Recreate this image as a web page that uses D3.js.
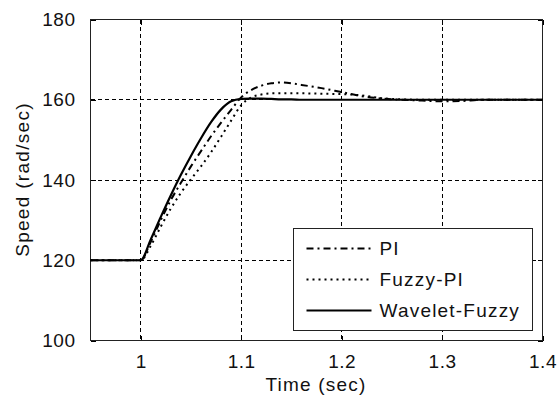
<!DOCTYPE html>
<html>
<head>
<meta charset="utf-8">
<script src="https://cdn.jsdelivr.net/npm/d3@7"></script>
<style>
  html, body { margin: 0; padding: 0; background: #fff; }
  svg { display: block; }
  text { font-family: "Liberation Sans", Arial, sans-serif; fill: #111; }
</style>
</head>
<body>
<svg id="chart" width="560" height="398"></svg>
<script>
// time samples (sec)
const time = [0.95, 1.0, 1.01, 1.02, 1.03, 1.04, 1.05, 1.06, 1.07, 1.08, 1.09, 1.1,
  1.11, 1.12, 1.13, 1.14, 1.15, 1.16, 1.18, 1.2, 1.22, 1.24, 1.26, 1.28, 1.3, 1.32, 1.34, 1.37, 1.4];

// speed (rad/sec) for each controller
const piSpeed = [120, 120, 124.6, 130.0, 135.0, 139.3, 143.4, 147.2, 150.9, 154.3, 157.5, 160.6,
  162.4, 163.5, 164.1, 164.3, 164.1, 163.7, 162.9, 161.9, 160.9, 160.3, 160.0, 159.8, 159.6, 159.7, 160.0, 160.0, 160.0];
const fuzzyPiSpeed = [120, 120, 123.6, 128.4, 132.9, 136.8, 140.2, 143.4, 146.9, 150.8, 154.8, 158.6,
  160.6, 161.3, 161.6, 161.6, 161.6, 161.6, 161.5, 161.4, 161.1, 160.4, 160.1, 160.0, 160.0, 160.0, 160.0, 160.0, 160.0];
const waveletSpeed = [120, 120, 125.2, 130.8, 136.2, 141.3, 146.0, 150.4, 154.4, 157.6, 159.6, 160.2,
  160.3, 160.3, 160.2, 160.1, 160.1, 160.0, 160.0, 160.0, 160.0, 160.0, 160.0, 160.0, 160.0, 160.0, 160.0, 160.0, 160.0];

const xTicks = [1, 1.1, 1.2, 1.3, 1.4];
const yTicks = [100, 120, 140, 160, 180];
const legendLabels = ['PI', 'Fuzzy-PI', 'Wavelet-Fuzzy'];

const svg = d3.select('#chart');
const margin = { left: 90, right: 18, top: 19, bottom: 58 };
const width = 560 - margin.left - margin.right;
const height = 398 - margin.top - margin.bottom;

const x = d3.scaleLinear().domain([0.95, 1.4]).range([0, width]);
const y = d3.scaleLinear().domain([100, 180]).range([height, 0]);

const g = svg.append('g').attr('transform', `translate(${margin.left + 0.5},${margin.top + 0.5})`);

// grid
const grid = g.append('g').attr('class', 'grid').attr('shape-rendering', 'crispEdges');
grid.selectAll('line.vx')
  .data(xTicks)
  .enter()
  .append('line')
  .attr('x1', (d) => Math.round(x(d))).attr('x2', (d) => Math.round(x(d)))
  .attr('y1', 0).attr('y2', height)
  .attr('stroke', '#000').attr('stroke-width', 1).attr('stroke-dasharray', '4,3');
grid.selectAll('line.hy')
  .data(yTicks)
  .enter()
  .append('line')
  .attr('x1', 0).attr('x2', width)
  .attr('y1', (d) => Math.round(y(d))).attr('y2', (d) => Math.round(y(d)))
  .attr('stroke', '#000').attr('stroke-width', 1).attr('stroke-dasharray', '4,3');

// axes with inside ticks
const fmtX = (d) => (d === 1 ? '1' : d3.format('.1f')(d));
const axisFont = '19px';

const xAxis = g.append('g').attr('transform', `translate(0,${height})`)
  .call(d3.axisBottom(x).tickValues(xTicks).tickSize(-5).tickPadding(14).tickFormat(fmtX));
const xTop = g.append('g').call(d3.axisTop(x).tickValues(xTicks).tickSize(-5).tickFormat(''));
const yAxis = g.append('g')
  .call(d3.axisLeft(y).tickValues(yTicks).tickSize(-5).tickPadding(15));
const yRight = g.append('g').attr('transform', `translate(${width},0)`)
  .call(d3.axisRight(y).tickValues(yTicks).tickSize(-5).tickFormat(''));

[xAxis, xTop, yAxis, yRight].forEach((ax) => {
  ax.select('.domain').remove();
  ax.selectAll('line').attr('stroke', '#000').attr('stroke-width', 1).attr('shape-rendering', 'crispEdges');
  ax.selectAll('text')
    .style('font-size', axisFont)
    .style('letter-spacing', '0.5px')
    .style('font-family', '"Liberation Sans", Arial, sans-serif')
    .style('fill', '#111');
});

g.append('rect')
  .attr('x', 0).attr('y', 0).attr('width', width).attr('height', height)
  .attr('fill', 'none').attr('stroke', '#222').attr('stroke-width', 1.5)
  .attr('shape-rendering', 'crispEdges');

// curves
const series = [
  { name: legendLabels[0], values: piSpeed, dash: '7,4,2,4', w: 2 },
  { name: legendLabels[1], values: fuzzyPiSpeed, dash: '2,4', w: 2 },
  { name: legendLabels[2], values: waveletSpeed, dash: null, w: 2.2 },
];

const line = d3.line()
  .x((d) => x(d[0]))
  .y((d) => y(d[1]))
  .curve(d3.curveMonotoneX);

g.selectAll('path.series')
  .data(series)
  .enter()
  .append('path')
  .attr('class', 'series')
  .attr('d', (s) => line(time.map((t, i) => [t, s.values[i]])))
  .attr('fill', 'none')
  .attr('stroke', '#000')
  .attr('stroke-width', (s) => s.w)
  .attr('stroke-dasharray', (s) => s.dash);

// legend
const legend = svg.append('g').attr('transform', 'translate(293.5,228.5)');
legend.append('rect')
  .attr('width', 239).attr('height', 102)
  .attr('fill', '#fff').attr('stroke', '#222').attr('stroke-width', 1.5)
  .attr('shape-rendering', 'crispEdges');

const rows = legend.selectAll('g.row')
  .data(series)
  .enter()
  .append('g')
  .attr('transform', (d, i) => `translate(0,${20 + i * 31})`);

rows.append('line')
  .attr('x1', 13).attr('x2', 78).attr('y1', 0).attr('y2', 0)
  .attr('stroke', '#000')
  .attr('stroke-width', (d) => d.w)
  .attr('stroke-dasharray', (d) => d.dash);

rows.append('text')
  .attr('x', 86).attr('y', 0).attr('dy', '0.35em')
  .style('font-size', axisFont)
  .style('letter-spacing', '1.2px')
  .text((d) => d.name);

// axis labels
svg.append('text')
  .attr('x', margin.left + width / 2).attr('y', 391)
  .attr('text-anchor', 'middle')
  .style('font-size', axisFont)
  .style('letter-spacing', '1.2px')
  .text('Time (sec)');

svg.append('text')
  .attr('transform', `translate(29,${margin.top + height / 2}) rotate(-90)`)
  .attr('text-anchor', 'middle')
  .style('font-size', axisFont)
  .style('letter-spacing', '1.3px')
  .text('Speed (rad/sec)');
</script>
</body>
</html>
